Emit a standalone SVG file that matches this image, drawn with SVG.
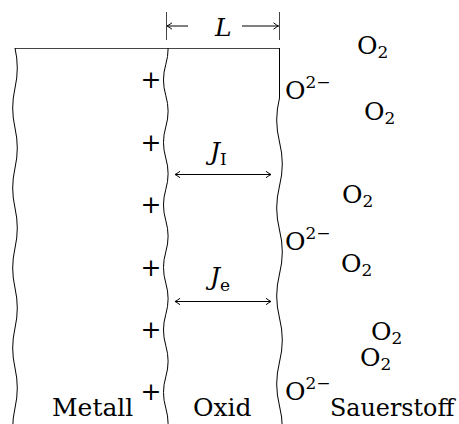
<svg xmlns="http://www.w3.org/2000/svg" width="459" height="424" viewBox="0 0 459 424">
<style>
text{font-family:"DejaVu Serif","Liberation Serif",serif;font-size:25px;fill:#000}
.it{font-style:italic}
.sub{font-size:17px}
.wave{fill:none;stroke:#000;stroke-width:1}
.edge{fill:none;stroke:#444;stroke-width:1}
.arr{fill:none;stroke:#000;stroke-width:1}
</style>
<defs>
<marker id="ah" viewBox="-6 -4 7 8" refX="0" refY="0" markerWidth="7" markerHeight="8" markerUnits="userSpaceOnUse" orient="auto-start-reverse">
<path d="M-5,-3.2 Q-1.5,-0.6 0,0 Q-1.5,0.6 -5,3.2" fill="none" stroke="#000" stroke-width="1"/>
</marker>
<clipPath id="below"><rect x="0" y="48" width="459" height="376"/></clipPath>
</defs>
<g id="boundaries">
<path class="edge" d="M15,48.5 H279.5"/>
<path id="metal-edge" class="wave" d="M15,48 q4.6,20 0,40 t0,40 t0,40 t0,40 t0,40 t0,40 t0,40 t0,40 t0,40 t0,40"/>
<path id="metal-oxide" class="wave" clip-path="url(#below)" d="M165.8,33.1 q4.6,15.625 0,31.25 t0,31.25 t0,31.25 t0,31.25 t0,31.25 t0,31.25 t0,31.25 t0,31.25 t0,31.25 t0,31.25 t0,31.25 t0,31.25 t0,31.25"/>
<path id="oxide-gas" class="wave" d="M279.5,48 V98 q-5.6,22 0,44 t0,44 t0,44 t0,44 t0,44 t0,44 t0,44 t0,44"/>
</g>
<g id="connectors">
<path class="edge" d="M166.5,12 V40 M279.5,12 V40"/>
<path class="arr" d="M188,26 H167" marker-end="url(#ah)"/>
<path class="arr" d="M242,26 H278.5" marker-end="url(#ah)"/>
<path class="arr" d="M175,174.5 H271" marker-start="url(#ah)" marker-end="url(#ah)"/>
<path class="arr" d="M175,301.5 H271" marker-start="url(#ah)" marker-end="url(#ah)"/>
</g>
<g id="label-L"><text class="it" x="215" y="36">L</text></g>
<g id="label-JI"><text x="210" y="160"><tspan class="it">J</tspan><tspan class="sub" dy="5">I</tspan></text></g>
<g id="label-Je"><text x="210" y="285"><tspan class="it">J</tspan><tspan class="sub" dy="6">e</tspan></text></g>
<g id="charges" text-anchor="middle">
<text x="151" y="88">+</text>
<text x="151" y="151">+</text>
<text x="151" y="213">+</text>
<text x="151" y="276">+</text>
<text x="151" y="338">+</text>
<text x="151" y="400">+</text>
</g>
<g id="oxide-ions">
<text x="285" y="99">O<tspan class="sub" dy="-11">2−</tspan></text>
<text x="285" y="250">O<tspan class="sub" dy="-11">2−</tspan></text>
<text x="285" y="400">O<tspan class="sub" dy="-11">2−</tspan></text>
</g>
<g id="oxygen">
<text x="357" y="54">O<tspan class="sub" dy="4">2</tspan></text>
<text x="364" y="120">O<tspan class="sub" dy="4">2</tspan></text>
<text x="342" y="203">O<tspan class="sub" dy="4">2</tspan></text>
<text x="341" y="272">O<tspan class="sub" dy="4">2</tspan></text>
<text x="371" y="340">O<tspan class="sub" dy="4">2</tspan></text>
<text x="360" y="366">O<tspan class="sub" dy="4">2</tspan></text>
</g>
<g id="labels">
<text x="52" y="416">Metall</text>
<text x="193" y="416">Oxid</text>
<text x="330" y="416" style="font-size:23.8px">Sauerstoff</text>
</g>
</svg>
